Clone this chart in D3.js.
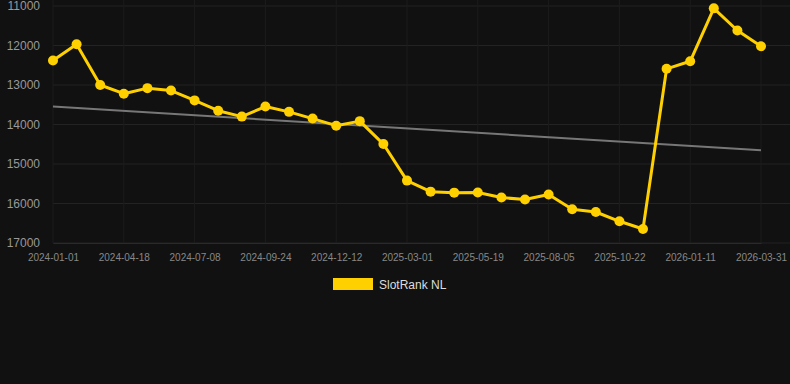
<!DOCTYPE html>
<html><head><meta charset="utf-8">
<script src="https://cdn.jsdelivr.net/npm/d3@7"></script>
<style>html,body{margin:0;padding:0;background:#111111;}svg{display:block;}</style>
</head><body>
<svg id="c" width="790" height="384"></svg>
<script>
const dates = ["2024-01-01","2024-02-06","2024-03-13","2024-04-18","2024-05-15","2024-06-11","2024-07-08","2024-08-03","2024-08-29","2024-09-24","2024-10-20","2024-11-16","2024-12-12","2025-01-07","2025-02-03","2025-03-01","2025-03-27","2025-04-23","2025-05-19","2025-06-14","2025-07-10","2025-08-05","2025-08-31","2025-09-26","2025-10-22","2025-11-18","2025-12-15","2026-01-11","2026-02-06","2026-03-05","2026-03-31"];
const rankValues = [12380,11970,13000,13220,13080,13140,13390,13650,13800,13545,13680,13850,14030,13915,14495,15420,15700,15725,15720,15850,15900,15770,16145,16215,16450,16645,12590,12400,11060,11620,12020];
const trendValues = [13545,14655];
const yTicks = [11000,12000,13000,14000,15000,16000,17000];
const seriesName = "SlotRank NL";

const svg = d3.select("#c");
const m = {l:53, r:761, t:6, b:243};
const x = d3.scalePoint().domain(dates).range([m.l, m.r]);
const y = d3.scaleLinear().domain([11000,17000]).range([m.t, m.b]);
const labelDates = dates.filter((d,i)=>i%3===0);
const gold = "#ffd000";

// grid
svg.append("g").selectAll("line").data(yTicks).join("line")
  .attr("x1", m.l).attr("x2", 790).attr("y1", d=>y(d)).attr("y2", d=>y(d))
  .attr("stroke", "#232323").attr("stroke-width", 1);
svg.append("g").selectAll("line").data(labelDates).join("line")
  .attr("x1", d=>x(d)).attr("x2", d=>x(d)).attr("y1", 0).attr("y2", m.b)
  .attr("stroke", "#1c1c1c").attr("stroke-width", 1);

// y axis
const ya = svg.append("g").attr("transform", `translate(${m.l-10},0)`)
  .call(d3.axisLeft(y).tickValues(yTicks).tickSize(0).tickFormat(d3.format("d")));
ya.select(".domain").remove();
ya.selectAll("text").attr("fill", "#999").attr("font-family", "Arial, 'Liberation Sans', sans-serif").attr("font-size", 12).attr("dx", 0);

// x axis
const xa = svg.append("g").attr("transform", `translate(0,${m.b})`)
  .call(d3.axisBottom(x).tickValues(labelDates).tickSize(0).tickPadding(11));
xa.select(".domain").attr("stroke", "#2a2a2a");
xa.selectAll("text").attr("fill", "#888").attr("font-family", "Arial, 'Liberation Sans', sans-serif").attr("font-size", 10);

// trend line
svg.append("line")
  .attr("x1", x(dates[0])).attr("x2", x(dates[dates.length-1]))
  .attr("y1", y(trendValues[0])).attr("y2", y(trendValues[1]))
  .attr("stroke", "#777").attr("stroke-width", 2);

// series line
const line = d3.line().x((d,i)=>x(dates[i])).y(d=>y(d));
svg.append("path").datum(rankValues).attr("d", line)
  .attr("fill", "none").attr("stroke", gold).attr("stroke-width", 3).attr("stroke-linejoin", "round");
svg.append("g").selectAll("circle").data(rankValues).join("circle")
  .attr("cx", (d,i)=>x(dates[i])).attr("cy", d=>y(d)).attr("r", 5)
  .attr("fill", gold);

// legend
svg.append("rect").attr("x", 333).attr("y", 278).attr("width", 40).attr("height", 12).attr("fill", gold);
svg.append("text").attr("x", 379).attr("y", 288.5).text(seriesName)
  .attr("fill", "#ddd").attr("font-family", "Arial, 'Liberation Sans', sans-serif").attr("font-size", 12);
</script>
</body></html>
